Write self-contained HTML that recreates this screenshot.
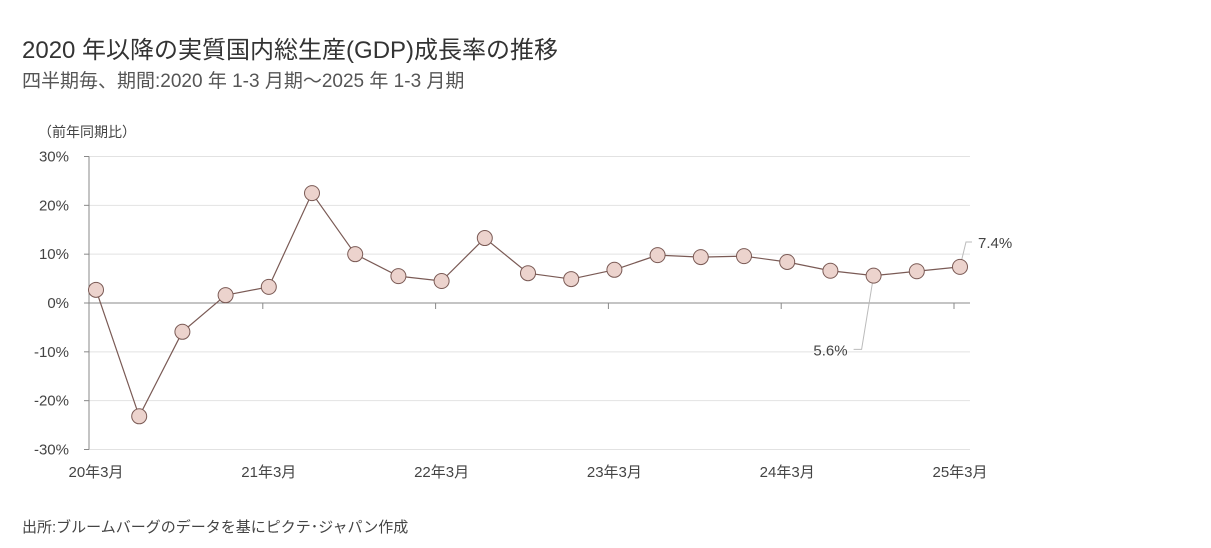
<!DOCTYPE html>
<html><head><meta charset="utf-8">
<style>
body{margin:0;background:#fff;width:1211px;height:548px;overflow:hidden;font-family:"Liberation Sans","Noto Sans CJK JP",sans-serif;color:#333}
.t{position:absolute;white-space:nowrap}
</style></head><body>
<div class="t" style="left:22px;top:30px;font-size:24px;color:#333">2020 年以降の実質国内総生産(GDP)成長率の推移</div>
<div class="t" style="left:22px;top:66px;font-size:19px;color:#555">四半期毎、期間:2020 年 1-3 月期～2025 年 1-3 月期</div>
<div class="t" style="left:22px;top:516px;font-size:15px;color:#444">出所:ブルームバーグのデータを基にピクテ･ジャパン作成</div>
<svg id="c" width="1211" height="548" style="position:absolute;left:0;top:0"></svg>
<script>
const categories=["20年3月","20年6月","20年9月","20年12月","21年3月","21年6月","21年9月","21年12月","22年3月","22年6月","22年9月","22年12月","23年3月","23年6月","23年9月","23年12月","24年3月","24年6月","24年9月","24年12月","25年3月"];
const values=[2.7,-23.2,-5.9,1.6,3.3,22.5,10.0,5.5,4.5,13.3,6.1,4.9,6.8,9.8,9.4,9.6,8.4,6.6,5.6,6.5,7.4];
const yTicks=[30,20,10,0,-10,-20,-30];
const xLabelIdx=[0,4,8,12,16,20];
const NS="http://www.w3.org/2000/svg";
const svg=document.getElementById('c');
const x0=96,dx=43.2,x=i=>x0+i*dx;
const y=v=>303-v*4.883;
function mk(t,a,p){const e=document.createElementNS(NS,t);for(const k in a)e.setAttribute(k,a[k]);(p||svg).appendChild(e);return e;}
const yl=mk('text',{x:38,y:137,'font-size':14,fill:'#444'});yl.textContent='（前年同期比）';


yTicks.forEach(t=>{
  if(t!==0){const g=mk('line',{x1:89,x2:970,y1:y(t),y2:y(t),stroke:'#e2e2e2'});
  
  }
  const tx=mk('text',{x:69,y:y(t)+5,'font-size':15,fill:'#444','text-anchor':'end'});tx.textContent=t+'%';
  
  
  mk('line',{x1:84,x2:89,y1:y(t),y2:y(t),stroke:'#888'});
});
const za=mk('line',{x1:89,x2:970,y1:y(0),y2:y(0),stroke:'#888'});


const ya=mk('line',{x1:89,x2:89,y1:y(30),y2:y(-30),stroke:'#888'});


xLabelIdx.forEach(i=>{
  if(i>0)mk('line',{x1:x(i)-6,x2:x(i)-6,y1:y(0),y2:y(0)+6,stroke:'#888'});
  const t=mk('text',{x:x(i),y:477,'font-size':15,fill:'#444','text-anchor':'middle'});t.textContent=categories[i];
  
  
});
const pl=mk('polyline',{points:values.map((v,i)=>x(i)+','+y(v)).join(' '),fill:'none',stroke:'#7a5a55','stroke-width':1.2});


// callouts
const n=values.length-1,m=n-2;
mk('polyline',{points:`${x(m)},${y(values[m])} ${x(m)-12},${y(-9.5)} ${x(m)-20},${y(-9.5)}`,fill:'none',stroke:'#bbb'});
const c1=mk('text',{x:x(m)-26,y:y(-9.5)+6,'font-size':15,fill:'#444','text-anchor':'end'});c1.textContent=values[m].toFixed(1)+'%';


mk('polyline',{points:`${x(n)},${y(values[n])} ${x(n)+6},${y(12.5)} ${x(n)+12},${y(12.5)}`,fill:'none',stroke:'#bbb'});
const c2=mk('text',{x:x(n)+18,y:y(12.5)+6,'font-size':15,fill:'#444'});c2.textContent=values[n].toFixed(1)+'%';


values.forEach((v,i)=>{
  const p=mk('circle',{cx:x(i),cy:y(v),r:7.5,fill:'#ecd3cd',stroke:'#7a5a55','stroke-width':1});
  
  
});
</script>
</body></html>
